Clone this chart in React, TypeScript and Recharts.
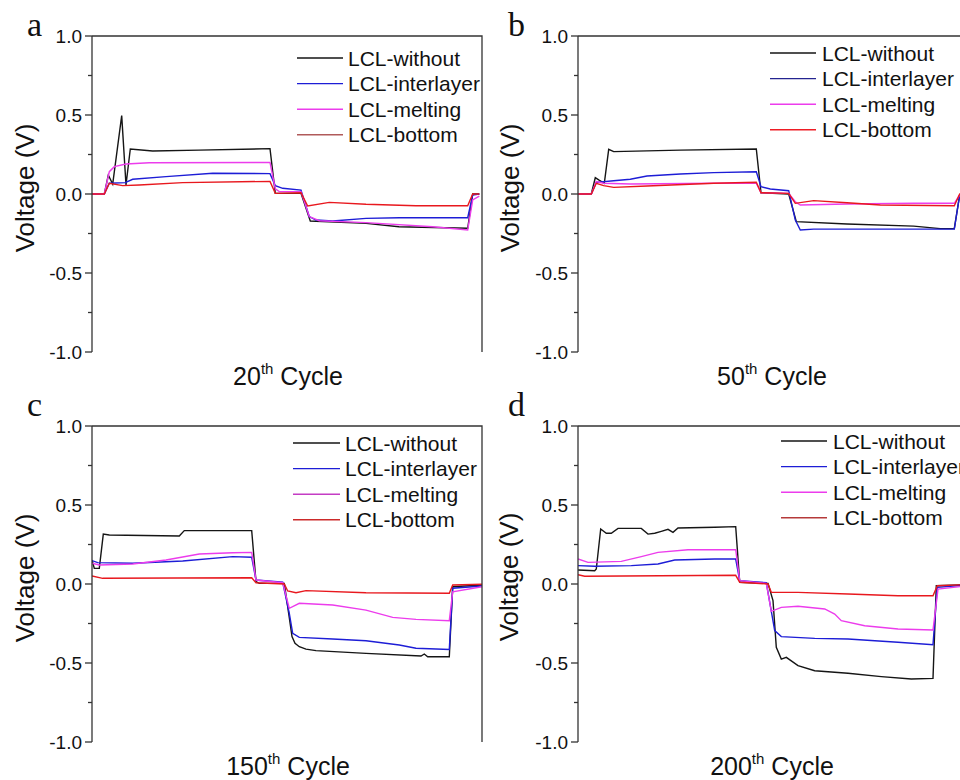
import { LineChart, Line, XAxis, YAxis } from 'recharts';

type Pt = { t: number; v: number };

const SERIES_NAMES = ['LCL-without', 'LCL-interlayer', 'LCL-melting', 'LCL-bottom'];
const SERIES_COLORS = ['#151515', '#1d1dd6', '#ec3cec', '#e8181e'];
const Y_TICKS = [-1, -0.75, -0.5, -0.25, 0, 0.25, 0.5, 0.75, 1];
const T_MAX = 390;

// 20th cycle
const aWithout: Pt[] = [
  { t: 0, v: 0 }, { t: 12.3, v: 0 }, { t: 16.3, v: 0.12 }, { t: 20.7, v: 0.063 },
  { t: 29.7, v: 0.496 }, { t: 34, v: 0.057 }, { t: 38.3, v: 0.285 }, { t: 60.7, v: 0.272 },
  { t: 107, v: 0.278 }, { t: 178, v: 0.287 }, { t: 183.3, v: 0.004 }, { t: 209, v: 0.004 },
  { t: 218.3, v: -0.171 }, { t: 274, v: -0.186 }, { t: 307, v: -0.207 }, { t: 375.7, v: -0.217 },
  { t: 380.7, v: 0 }, { t: 387.3, v: 0 },
];
const aInterlayer: Pt[] = [
  { t: 0, v: 0 }, { t: 12.3, v: 0 }, { t: 17.3, v: 0.068 }, { t: 33.3, v: 0.072 },
  { t: 40.7, v: 0.093 }, { t: 74, v: 0.11 }, { t: 120.7, v: 0.131 }, { t: 178, v: 0.129 },
  { t: 183.3, v: 0.053 }, { t: 190.7, v: 0.036 }, { t: 209, v: 0.025 }, { t: 217.3, v: -0.143 },
  { t: 224, v: -0.165 }, { t: 240.7, v: -0.171 }, { t: 274, v: -0.154 }, { t: 307.3, v: -0.15 },
  { t: 375.7, v: -0.15 }, { t: 380.7, v: -0.006 }, { t: 387.3, v: 0 },
];
const aMelting: Pt[] = [
  { t: 0, v: 0 }, { t: 12.3, v: 0 }, { t: 17.3, v: 0.141 }, { t: 22.3, v: 0.173 },
  { t: 34, v: 0.19 }, { t: 57.3, v: 0.198 }, { t: 178, v: 0.2 }, { t: 183.3, v: 0.032 },
  { t: 187.3, v: 0.015 }, { t: 209, v: 0.015 }, { t: 217.3, v: -0.143 }, { t: 227.3, v: -0.169 },
  { t: 274, v: -0.181 }, { t: 340.7, v: -0.207 }, { t: 375.7, v: -0.228 }, { t: 380.7, v: -0.038 },
  { t: 387.3, v: -0.013 },
];
const aBottom: Pt[] = [
  { t: 0, v: 0 }, { t: 12.3, v: 0 }, { t: 17.3, v: 0.068 }, { t: 30.7, v: 0.053 },
  { t: 47.3, v: 0.057 }, { t: 90.7, v: 0.072 }, { t: 178, v: 0.08 }, { t: 183.3, v: 0.004 },
  { t: 209, v: 0.008 }, { t: 215.7, v: -0.076 }, { t: 237.3, v: -0.053 }, { t: 274, v: -0.065 },
  { t: 324, v: -0.074 }, { t: 375.7, v: -0.074 }, { t: 380.7, v: 0 }, { t: 387.3, v: 0 },
];

// 50th cycle
const bWithout: Pt[] = [
  { t: 0, v: 0 }, { t: 13.3, v: 0 }, { t: 17.3, v: 0.103 }, { t: 20.7, v: 0.089 },
  { t: 26.3, v: 0.068 }, { t: 30.7, v: 0.283 }, { t: 35.7, v: 0.268 }, { t: 102.3, v: 0.278 },
  { t: 178.3, v: 0.285 }, { t: 183, v: 0.008 }, { t: 210.7, v: 0 }, { t: 218.3, v: -0.175 },
  { t: 269, v: -0.19 }, { t: 335.7, v: -0.203 }, { t: 362.3, v: -0.219 }, { t: 376.3, v: -0.219 },
  { t: 381.7, v: -0.006 }, { t: 390, v: 0 },
];
const bInterlayer: Pt[] = [
  { t: 0, v: 0 }, { t: 13.3, v: 0 }, { t: 18.3, v: 0.074 }, { t: 35.7, v: 0.084 },
  { t: 52.3, v: 0.093 }, { t: 69, v: 0.114 }, { t: 102.3, v: 0.127 }, { t: 135.7, v: 0.135 },
  { t: 178.3, v: 0.141 }, { t: 183, v: 0.046 }, { t: 192.3, v: 0.032 }, { t: 210.7, v: 0.021 },
  { t: 217.3, v: -0.165 }, { t: 222.3, v: -0.228 }, { t: 235.7, v: -0.222 }, { t: 302.3, v: -0.222 },
  { t: 376.3, v: -0.222 }, { t: 381.7, v: -0.006 }, { t: 390, v: 0 },
];
const bMelting: Pt[] = [
  { t: 0, v: 0 }, { t: 13.3, v: 0 }, { t: 18.3, v: 0.078 }, { t: 25.7, v: 0.068 },
  { t: 52.3, v: 0.063 }, { t: 135.7, v: 0.068 }, { t: 178.3, v: 0.068 }, { t: 183, v: 0.008 },
  { t: 210.7, v: 0.004 }, { t: 217.3, v: -0.049 }, { t: 222.3, v: -0.07 }, { t: 269, v: -0.063 },
  { t: 335.7, v: -0.059 }, { t: 376.3, v: -0.059 }, { t: 381.7, v: -0.006 }, { t: 390, v: 0 },
];
const bBottom: Pt[] = [
  { t: 0, v: 0 }, { t: 13.3, v: 0 }, { t: 18.3, v: 0.068 }, { t: 25.7, v: 0.053 },
  { t: 35.7, v: 0.042 }, { t: 69, v: 0.051 }, { t: 135.7, v: 0.068 }, { t: 178.3, v: 0.074 },
  { t: 183, v: 0.008 }, { t: 210.7, v: 0.004 }, { t: 217.3, v: -0.059 }, { t: 235.7, v: -0.042 },
  { t: 269, v: -0.055 }, { t: 302.3, v: -0.07 }, { t: 376.3, v: -0.074 }, { t: 381.7, v: 0 },
  { t: 390, v: 0 },
];

// 150th cycle
const cWithout: Pt[] = [
  { t: 0, v: 0.152 }, { t: 2.3, v: 0.099 }, { t: 7.3, v: 0.099 }, { t: 11.3, v: 0.316 },
  { t: 17.3, v: 0.31 }, { t: 87.3, v: 0.304 }, { t: 92.3, v: 0.338 }, { t: 107.3, v: 0.338 },
  { t: 159.7, v: 0.338 }, { t: 164, v: 0.015 }, { t: 167.3, v: 0.004 }, { t: 192.3, v: 0.004 },
  { t: 197, v: -0.2 }, { t: 200, v: -0.333 }, { t: 203, v: -0.375 }, { t: 207.3, v: -0.397 },
  { t: 214, v: -0.412 }, { t: 224, v: -0.422 }, { t: 274, v: -0.439 }, { t: 329, v: -0.456 },
  { t: 332.3, v: -0.443 }, { t: 335.7, v: -0.46 }, { t: 357.3, v: -0.46 }, { t: 360.7, v: -0.017 },
  { t: 390, v: -0.006 },
];
const cInterlayer: Pt[] = [
  { t: 0, v: 0.148 }, { t: 5.7, v: 0.135 }, { t: 40.7, v: 0.131 }, { t: 90.7, v: 0.146 },
  { t: 140.7, v: 0.173 }, { t: 159.7, v: 0.169 }, { t: 164, v: 0.025 }, { t: 190.7, v: 0.011 },
  { t: 197.3, v: -0.186 }, { t: 200.7, v: -0.312 }, { t: 207.3, v: -0.338 }, { t: 240.7, v: -0.348 },
  { t: 274, v: -0.359 }, { t: 307.3, v: -0.386 }, { t: 324, v: -0.407 }, { t: 357.3, v: -0.414 },
  { t: 360.7, v: -0.027 }, { t: 390, v: -0.013 },
];
const cMelting: Pt[] = [
  { t: 0, v: 0.131 }, { t: 7.3, v: 0.12 }, { t: 40.7, v: 0.127 }, { t: 74, v: 0.152 },
  { t: 107.3, v: 0.19 }, { t: 140.7, v: 0.198 }, { t: 159.7, v: 0.2 }, { t: 164, v: 0.025 },
  { t: 190.7, v: 0.008 }, { t: 197.3, v: -0.154 }, { t: 207.3, v: -0.122 }, { t: 240.7, v: -0.133 },
  { t: 274, v: -0.165 }, { t: 300.7, v: -0.211 }, { t: 324, v: -0.224 }, { t: 357.3, v: -0.232 },
  { t: 360.7, v: -0.049 }, { t: 390, v: -0.017 },
];
const cBottom: Pt[] = [
  { t: 0, v: 0.051 }, { t: 10.7, v: 0.036 }, { t: 159.7, v: 0.04 }, { t: 164, v: 0.008 },
  { t: 192.3, v: 0 }, { t: 195.7, v: -0.044 }, { t: 204, v: -0.055 }, { t: 214, v: -0.042 },
  { t: 274, v: -0.055 }, { t: 357.3, v: -0.059 }, { t: 360.7, v: -0.006 }, { t: 390, v: -0.002 },
];

// 200th cycle
const dWithout: Pt[] = [
  { t: 0, v: 0.089 }, { t: 16.7, v: 0.084 }, { t: 18.3, v: 0.095 }, { t: 22.7, v: 0.348 },
  { t: 28.3, v: 0.321 }, { t: 33.3, v: 0.321 }, { t: 40, v: 0.352 }, { t: 63.3, v: 0.352 },
  { t: 70, v: 0.316 }, { t: 76.7, v: 0.321 }, { t: 83.3, v: 0.333 }, { t: 90, v: 0.346 },
  { t: 95, v: 0.327 }, { t: 100, v: 0.354 }, { t: 136.7, v: 0.359 }, { t: 157.7, v: 0.363 },
  { t: 161.7, v: 0.011 }, { t: 190, v: 0.004 }, { t: 195, v: -0.105 }, { t: 198.3, v: -0.401 },
  { t: 203.3, v: -0.475 }, { t: 208.3, v: -0.464 }, { t: 220, v: -0.517 }, { t: 236.7, v: -0.549 },
  { t: 270, v: -0.565 }, { t: 303.3, v: -0.586 }, { t: 333.3, v: -0.601 }, { t: 355, v: -0.597 },
  { t: 358.3, v: -0.011 }, { t: 390, v: -0.004 },
];
const dInterlayer: Pt[] = [
  { t: 0, v: 0.116 }, { t: 16.7, v: 0.112 }, { t: 53.3, v: 0.116 }, { t: 80, v: 0.127 },
  { t: 96.7, v: 0.152 }, { t: 136.7, v: 0.158 }, { t: 157.7, v: 0.158 }, { t: 161.7, v: 0.021 },
  { t: 188.3, v: 0.008 }, { t: 196.7, v: -0.295 }, { t: 203.3, v: -0.333 }, { t: 236.7, v: -0.344 },
  { t: 270, v: -0.348 }, { t: 320, v: -0.369 }, { t: 355, v: -0.384 }, { t: 359.3, v: -0.021 },
  { t: 390, v: -0.006 },
];
const dMelting: Pt[] = [
  { t: 0, v: 0.158 }, { t: 10, v: 0.137 }, { t: 43.3, v: 0.143 }, { t: 63.3, v: 0.173 },
  { t: 80, v: 0.2 }, { t: 110, v: 0.217 }, { t: 157.7, v: 0.217 }, { t: 161.7, v: 0.021 },
  { t: 188.3, v: 0.004 }, { t: 193.3, v: -0.173 }, { t: 203.3, v: -0.148 }, { t: 220, v: -0.141 },
  { t: 246.7, v: -0.158 }, { t: 256.7, v: -0.19 }, { t: 263.3, v: -0.232 }, { t: 286.7, v: -0.264 },
  { t: 320, v: -0.285 }, { t: 355, v: -0.291 }, { t: 360, v: -0.032 }, { t: 390, v: -0.011 },
];
const dBottom: Pt[] = [
  { t: 0, v: 0.059 }, { t: 6.7, v: 0.049 }, { t: 157.7, v: 0.055 }, { t: 161.7, v: 0.011 },
  { t: 190, v: 0 }, { t: 193.3, v: -0.053 }, { t: 220, v: -0.053 }, { t: 270, v: -0.063 },
  { t: 320, v: -0.074 }, { t: 355, v: -0.074 }, { t: 359.3, v: -0.011 }, { t: 390, v: -0.004 },
];

const FONT = '"Liberation Sans", Arial, sans-serif';
const AXIS_COLOR = '#333';
const Y_AXIS_W = 50;
const CHART_W = 500;
const CHART_H = 390;
const M_TOP = 36;
const M_BOTTOM = 38;

const panels = [
  {
    key: 'a', cycle: '20', left: 0, top: 0, ml: 42, mr: 18,
    series: [aWithout, aInterlayer, aMelting, aBottom],
    legendColors: ['#151515', '#1d1dd6', '#ec3cec', '#b05a5a'],
    letter: [27, 36], ylab: [25, 188], xlab: [288, 385], legend: [297, 343, 348, 58],
  },
  {
    key: 'b', cycle: '50', left: 480, top: 0, ml: 48, mr: 12,
    series: [bWithout, bInterlayer, bMelting, bBottom],
    legendColors: ['#151515', '#242490', '#ec3cec', '#ee1c24'],
    letter: [508, 36], ylab: [510, 188], xlab: [772, 385], legend: [770, 816, 822, 53],
  },
  {
    key: 'c', cycle: '150', left: 0, top: 390, ml: 42, mr: 18,
    series: [cWithout, cInterlayer, cMelting, cBottom],
    legendColors: ['#151515', '#1d1dd6', '#c43cc4', '#cc2a2a'],
    letter: [27, 416], ylab: [25, 578], xlab: [288, 775], legend: [293, 340, 345, 443],
  },
  {
    key: 'd', cycle: '200', left: 480, top: 390, ml: 48, mr: 12,
    series: [dWithout, dInterlayer, dMelting, dBottom],
    legendColors: ['#151515', '#1d1dd6', '#ec3cec', '#b53a3a'],
    letter: [508, 416], ylab: [509, 577], xlab: [772, 775], legend: [781, 827, 833, 441],
  },
];

function makeTick(axisX: number) {
  return (props: any) => {
    const { y, payload } = props;
    const val = payload.value;
    const major = Math.abs(val * 2 - Math.round(val * 2)) < 1e-6;
    return (
      <g>
        <line x1={axisX - (major ? 7 : 4)} x2={axisX} y1={y} y2={y} stroke={AXIS_COLOR} strokeWidth={1.3} />
        {major && (
          <text x={axisX - 10} y={y} dy="0.36em" textAnchor="end" fontSize={19} fontFamily={FONT} fill="#111">
            {val.toFixed(1)}
          </text>
        )}
      </g>
    );
  };
}

function Panel({ p }: { p: (typeof panels)[number] }) {
  return (
    <div style={{ position: 'absolute', left: p.left, top: p.top, width: CHART_W, height: CHART_H }}>
      <LineChart width={CHART_W} height={CHART_H} margin={{ top: M_TOP, right: p.mr, bottom: M_BOTTOM, left: p.ml }}>
        <XAxis type="number" dataKey="t" domain={[0, T_MAX]} tick={false} tickLine={false} height={0}
          axisLine={{ stroke: AXIS_COLOR, strokeWidth: 1.3 }} allowDataOverflow />
        <YAxis type="number" domain={[-1, 1]} ticks={Y_TICKS} width={Y_AXIS_W} interval={0}
          tick={makeTick(p.ml + Y_AXIS_W)} tickLine={false}
          axisLine={{ stroke: AXIS_COLOR, strokeWidth: 1.3 }} allowDataOverflow />
        {p.series.map((d, i) => (
          <Line key={SERIES_NAMES[i]} data={d} dataKey="v" type="linear" stroke={SERIES_COLORS[i]}
            strokeWidth={1.4} dot={false} isAnimationActive={false} />
        ))}
      </LineChart>
    </div>
  );
}

export default function App() {
  return (
    <div style={{ position: 'absolute', left: 0, top: 0, width: 960, height: 780, overflow: 'hidden', background: '#fff' }}>
      {panels.map((p) => (
        <Panel key={p.key} p={p} />
      ))}
      <svg width={960} height={780} style={{ position: 'absolute', left: 0, top: 0, pointerEvents: 'none' }}>
        {panels.map((p) => {
          const [lx1, lx2, tx, ry] = p.legend;
          // top and right frame lines of the plot box
          const x0 = p.left + p.ml + Y_AXIS_W;
          const x1 = p.left + CHART_W - p.mr;
          const y0 = p.top + M_TOP;
          const y1 = p.top + CHART_H - M_BOTTOM;
          return (
            <g key={p.key}>
              <path d={`M${x0},${y0}H${x1}V${y1}`} fill="none" stroke={AXIS_COLOR} strokeWidth={1.3} />
              <text x={p.letter[0]} y={p.letter[1]} fontSize={34} fontFamily='"Liberation Serif", "Times New Roman", serif' fill="#111">
                {p.key}
              </text>
              <text x={p.ylab[0]} y={p.ylab[1]} transform={`rotate(-90 ${p.ylab[0]} ${p.ylab[1]})`} textAnchor="middle"
                dy="0.36em" fontSize={26} fontFamily={FONT} fill="#111">
                Voltage (V)
              </text>
              <text x={p.xlab[0]} y={p.xlab[1]} textAnchor="middle" fontSize={25} fontFamily={FONT} fill="#111">
                {p.cycle}
                <tspan fontSize={15} dy={-11}>th</tspan>
                <tspan dy={11}> Cycle</tspan>
              </text>
              {SERIES_NAMES.map((name, i) => {
                const y = ry + i * 25.6;
                return (
                  <g key={name}>
                    <line x1={lx1} x2={lx2} y1={y} y2={y} stroke={p.legendColors[i]} strokeWidth={1.4} />
                    <text x={tx} y={y} dy="0.36em" fontSize={21} fontFamily={FONT} fill="#111">
                      {name}
                    </text>
                  </g>
                );
              })}
            </g>
          );
        })}
      </svg>
    </div>
  );
}
